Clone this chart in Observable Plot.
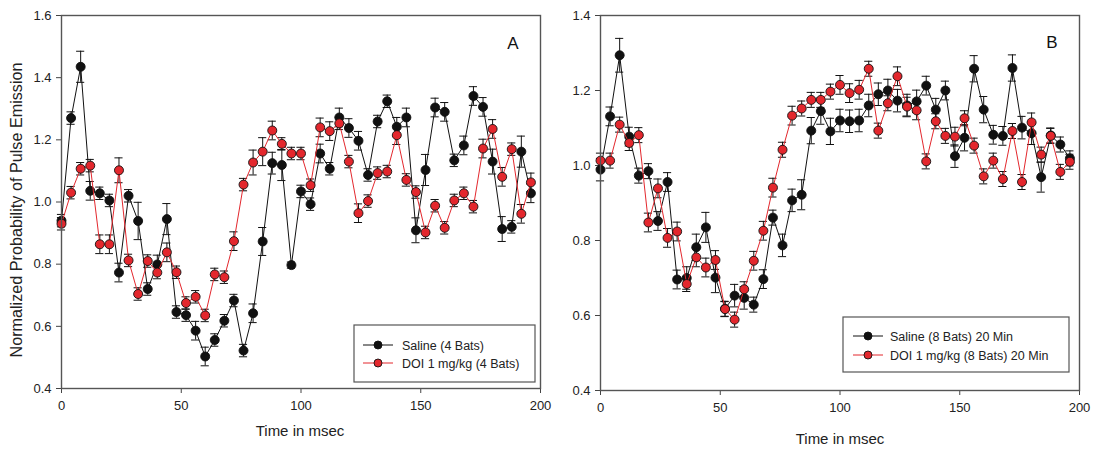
<!DOCTYPE html>
<html><head><meta charset="utf-8">
<script src="https://cdn.jsdelivr.net/npm/d3@7"></script>
<script src="https://cdn.jsdelivr.net/npm/@observablehq/plot@0.6"></script>
<style>
body{margin:0;background:#fff;}
#wrap{position:relative;width:1094px;height:450px;font-family:"Liberation Sans",Arial,sans-serif;}
#wrap svg{position:absolute;top:0;overflow:visible;}
</style></head><body><div id="wrap"></div>
<script>
// ---- data ----
const times = [0,4,8,12,16,20,24,28,32,36,40,44,48,52,56,60,64,68,72,76,80,84,88,92,96,100,104,108,112,116,120,124,128,132,136,140,144,148,152,156,160,164,168,172,176,180,184,188,192,196];
const xTicks = [0,50,100,150,200];
const yTicksA = [0.4,0.6,0.8,1.0,1.2,1.4,1.6];
const yTicksB = [0.4,0.6,0.8,1.0,1.2,1.4];

const salineA = [0.94,1.27,1.435,1.036,1.028,1.005,0.773,1.020,0.939,0.720,0.799,0.945,0.646,0.636,0.586,0.503,0.556,0.618,0.683,0.522,0.642,0.873,1.125,1.119,0.797,1.034,0.993,1.156,1.107,1.272,1.238,1.197,1.087,1.259,1.324,1.242,1.272,0.909,1.103,1.304,1.290,1.134,1.182,1.341,1.306,1.130,0.913,0.920,1.162,1.028];
const doiA = [0.93,1.030,1.107,1.117,0.864,0.864,1.102,0.812,0.704,0.810,0.773,0.838,0.774,0.675,0.695,0.635,0.767,0.758,0.874,1.056,1.127,1.162,1.230,1.187,1.156,1.156,1.054,1.240,1.228,1.253,1.130,0.964,1.003,1.093,1.098,1.215,1.071,1.032,0.902,0.988,0.917,1.005,1.028,0.985,1.172,1.235,1.081,1.170,0.962,1.063];
const errSalineA = [0.02,0.02,0.05,0.03,0.02,0.02,0.03,0.02,0.06,0.02,0.03,0.05,0.02,0.02,0.03,0.03,0.02,0.02,0.02,0.02,0.03,0.045,0.035,0.05,0.01,0.02,0.02,0.03,0.02,0.03,0.03,0.03,0.02,0.02,0.02,0.03,0.03,0.04,0.05,0.03,0.03,0.02,0.03,0.03,0.03,0.04,0.04,0.02,0.05,0.03];
const errDoiA = [0.02,0.02,0.02,0.02,0.03,0.03,0.04,0.02,0.02,0.02,0.02,0.03,0.02,0.02,0.02,0.02,0.02,0.02,0.03,0.02,0.04,0.045,0.03,0.02,0.02,0.02,0.02,0.03,0.03,0.02,0.02,0.03,0.02,0.02,0.02,0.03,0.02,0.02,0.02,0.02,0.02,0.02,0.02,0.02,0.03,0.03,0.03,0.02,0.03,0.03];

const salineB = [0.989,1.131,1.294,1.077,0.973,0.985,0.852,0.956,0.696,0.70,0.782,0.835,0.701,0.618,0.653,0.647,0.629,0.697,0.861,0.787,0.907,0.922,1.093,1.145,1.091,1.120,1.118,1.12,1.16,1.19,1.20,1.173,1.16,1.171,1.213,1.149,1.20,1.025,1.074,1.258,1.149,1.082,1.079,1.260,1.101,1.086,0.969,1.08,1.056,1.019];
const doiB = [1.013,1.013,1.109,1.060,1.081,0.848,0.939,0.807,0.824,0.684,0.755,0.728,0.748,0.617,0.589,0.670,0.746,0.826,0.941,1.042,1.133,1.152,1.175,1.175,1.197,1.215,1.193,1.202,1.258,1.093,1.166,1.238,1.157,1.147,1.011,1.118,1.079,1.077,1.126,1.053,0.971,1.013,0.964,1.092,0.956,1.115,1.029,1.079,0.983,1.010];
const errSalineB = [0.03,0.025,0.045,0.025,0.02,0.02,0.025,0.025,0.025,0.03,0.035,0.04,0.04,0.02,0.03,0.03,0.02,0.025,0.02,0.03,0.03,0.04,0.035,0.035,0.035,0.03,0.03,0.03,0.03,0.03,0.03,0.03,0.03,0.03,0.025,0.03,0.025,0.03,0.035,0.035,0.035,0.025,0.025,0.035,0.03,0.03,0.04,0.02,0.02,0.02];
const errDoiB = [0.02,0.02,0.02,0.02,0.02,0.025,0.025,0.025,0.025,0.02,0.025,0.025,0.025,0.02,0.02,0.02,0.025,0.025,0.025,0.02,0.025,0.02,0.02,0.02,0.02,0.025,0.025,0.025,0.02,0.02,0.02,0.025,0.025,0.025,0.02,0.02,0.02,0.025,0.02,0.02,0.02,0.02,0.02,0.02,0.02,0.025,0.02,0.02,0.02,0.02];

const legendA = ["Saline (4 Bats)", "DOI 1 mg/kg (4 Bats)"];
const legendB = ["Saline (8 Bats) 20 Min", "DOI 1 mg/kg (8 Bats) 20 Min"];
const yTitle = "Normalized Probability of Pulse Emission";
const xTitle = "Time in msec";

const BLACK = "#111", RED = "#e3272d";
const wrap = document.getElementById("wrap");

function rows(vals, errs){ return times.map((t,i)=>({t, v: vals[i], e: errs[i]})); }

function seriesMarks(data, lineColor, fill){
  return [
    Plot.ruleX(data, {x:"t", y1:d=>d.v-d.e, y2:d=>d.v+d.e, stroke:"#111", strokeWidth:1}),
    Plot.ruleY(data, {y:d=>d.v+d.e, x1:d=>d.t-1.7, x2:d=>d.t+1.7, stroke:"#111", strokeWidth:1}),
    Plot.ruleY(data, {y:d=>d.v-d.e, x1:d=>d.t-1.7, x2:d=>d.t+1.7, stroke:"#111", strokeWidth:1}),
    Plot.line(data, {x:"t", y:"v", stroke:lineColor, strokeWidth:1}),
    Plot.dot(data, {x:"t", y:"v", r:4.5, fill:fill, stroke:"#111", strokeWidth:0.9})
  ];
}

function panel(o){
  const S = rows(o.saline, o.eS), D = rows(o.doi, o.eD);
  const svg = Plot.plot({
    width:o.width, height:450,
    marginLeft:o.mL, marginRight:o.mR, marginTop:15, marginBottom:o.mB,
    style:{fontFamily:'"Liberation Sans",Arial,sans-serif', fontSize:"12px", color:"#222", background:"transparent"},
    x:{domain:[0,200]},
    y:{domain:o.yDomain},
    marks:[
      Plot.axisX({ticks:xTicks, tickSize:5, tickPadding:7, tickFormat:d=>String(d), label:null, stroke:"#444", fontSize:13}),
      Plot.axisY({ticks:o.yTicks, tickSize:5, tickPadding:5, tickFormat:d=>d.toFixed(1), label:null, stroke:"#444", fontSize:13}),
      ...seriesMarks(S, BLACK, BLACK),
      ...seriesMarks(D, RED, RED),
      Plot.frame({stroke:"#555", strokeWidth:1.4})
    ]
  });
  svg.style.left = o.left + "px";
  wrap.appendChild(svg);
  const g = d3.select(svg);
  g.append("text").attr("x", o.letterX).attr("y", o.letterY).attr("text-anchor","middle")
    .attr("font-size","17px").attr("fill","#111").text(o.letter);
  g.append("text").attr("x", o.xTitleX).attr("y", o.xTitleY).attr("text-anchor","middle")
    .attr("font-size","15px").attr("fill","#222").text(xTitle);
  if (o.yTitle){
    g.append("text").attr("transform",`translate(${o.yTitleX},${o.yTitleY}) rotate(-90)`)
      .attr("text-anchor","middle").attr("font-size","16.2px").attr("fill","#222").text(o.yTitle);
  }
  const L = o.leg;
  g.append("rect").attr("x",L.x).attr("y",L.y).attr("width",L.w).attr("height",L.h)
    .attr("fill","#fff").attr("stroke","#555").attr("stroke-width",1.2);
  const items = [[o.legend[0], BLACK, BLACK],[o.legend[1], RED, RED]];
  items.forEach(([txt, lc, fc], i)=>{
    const yy = L.y + L.r0 + i*L.dy;
    g.append("line").attr("x1",L.x+L.lx1).attr("x2",L.x+L.lx2).attr("y1",yy).attr("y2",yy)
      .attr("stroke",lc).attr("stroke-width",1);
    g.append("circle").attr("cx",L.x+(L.lx1+L.lx2)/2).attr("cy",yy).attr("r",4)
      .attr("fill",fc).attr("stroke","#111").attr("stroke-width",0.9);
    g.append("text").attr("x",L.x+L.tx).attr("y",yy+4.5).attr("font-size","12.5px")
      .attr("text-anchor","start").attr("fill","#222").text(txt);
  });
}

panel({left:0, width:550, mL:61, mR:10, mB:62, yDomain:[0.4,1.6], yTicks:yTicksA,
  saline:salineA, doi:doiA, eS:errSalineA, eD:errDoiA,
  letter:"A", letterX:513, letterY:49, xTitleX:300, xTitleY:436,
  yTitle:yTitle, yTitleX:22, yTitleY:210, legend:legendA,
  leg:{x:354, y:325, w:181, h:57, r0:20, dy:18, lx1:9, lx2:39, tx:48}});

panel({left:550, width:544, mL:50, mR:15, mB:60, yDomain:[0.4,1.4], yTicks:yTicksB,
  saline:salineB, doi:doiB, eS:errSalineB, eD:errDoiB,
  letter:"B", letterX:502, letterY:48, xTitleX:290, xTitleY:444,
  yTitle:null, legend:legendB,
  leg:{x:293, y:317, w:226, h:55, r0:19, dy:19, lx1:10, lx2:40, tx:47}});
</script>
</body></html>
